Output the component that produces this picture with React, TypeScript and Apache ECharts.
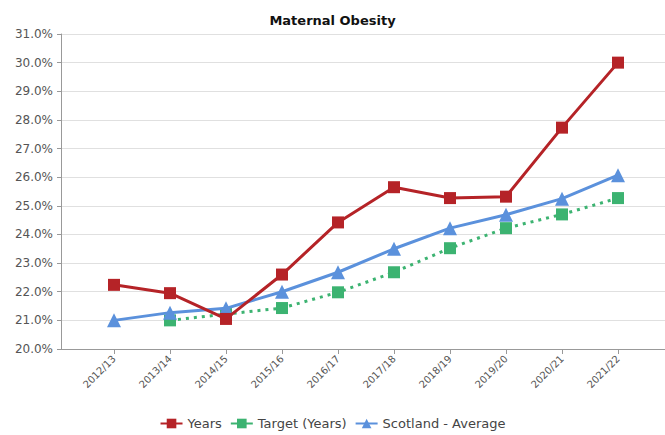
import React, { useEffect, useRef } from "react";
import * as echarts from "echarts";

const categories = ["2012/13", "2013/14", "2014/15", "2015/16", "2016/17", "2017/18", "2018/19", "2019/20", "2020/21", "2021/22"];
const yearsValues = [22.24, 21.95, 21.05, 22.6, 24.42, 25.65, 25.27, 25.32, 27.73, 30.0];
const targetValues: (number | string)[] = ["-", 21.0, 21.22, 21.43, 21.98, 22.68, 23.52, 24.22, 24.7, 25.27];
const scotlandValues = [21.0, 21.27, 21.42, 22.0, 22.68, 23.5, 24.22, 24.69, 25.25, 26.07];
const yTickMin = 20;
const yTickMax = 31;
const yTickStep = 1;

const FONT = "'DejaVu Sans', Verdana, sans-serif";

export default function App() {
  const ref = useRef<HTMLDivElement>(null);
  useEffect(() => {
    if (!ref.current) return;
    const chart = echarts.init(ref.current, null, { renderer: "svg" });
    chart.setOption({
      animation: false,
      backgroundColor: "#ffffff",
      title: {
        text: "Maternal Obesity",
        left: "center",
        top: 9,
        textStyle: { fontFamily: FONT, fontSize: 13, fontWeight: "bold", color: "#111" },
      },
      legend: {
        top: 412,
        left: "center",
        itemWidth: 22,
        itemHeight: 12,
        itemGap: 8,
        textStyle: { fontFamily: FONT, fontSize: 13, color: "#444" },
        data: [
          { name: "Years" },
          { name: "Target (Years)", lineStyle: { type: "solid" } },
          { name: "Scotland - Average" },
        ],
      },
      grid: [
        { left: 61, right: 0, top: 34, bottom: 86, containLabel: false },
        { left: 86, width: 560, top: 34, bottom: 86, containLabel: false },
      ],
      xAxis: [
        {
          type: "value",
          gridIndex: 0,
          min: 0,
          max: 1,
          axisLine: { show: true, lineStyle: { color: "#999", width: 1 } },
          axisTick: { show: false },
          axisLabel: { show: false },
          splitLine: { show: false },
        },
        {
          type: "category",
          gridIndex: 1,
          data: categories,
          boundaryGap: true,
          axisLine: { show: false },
          axisTick: { show: true, alignWithLabel: true, length: 5, lineStyle: { color: "#999" } },
          axisLabel: { rotate: 45, fontFamily: FONT, fontSize: 10, color: "#555", margin: 8, interval: 0 },
        },
      ],
      yAxis: [
        {
          type: "value",
          gridIndex: 0,
          min: yTickMin,
          max: yTickMax,
          interval: yTickStep,
          axisLine: { show: true, lineStyle: { color: "#999", width: 1 } },
          axisTick: { show: true, length: 4, lineStyle: { color: "#999" } },
          axisLabel: {
            fontFamily: FONT,
            fontSize: 12,
            color: "#555",
            margin: 8,
            formatter: (v: number) => v.toFixed(1) + "%",
          },
          splitLine: { show: true, lineStyle: { color: "#e0e0e0", width: 1 } },
        },
        {
          type: "value",
          gridIndex: 1,
          min: yTickMin,
          max: yTickMax,
          show: false,
          splitLine: { show: false },
        },
      ],
      series: [
        {
          name: "Target (Years)",
          type: "line",
          xAxisIndex: 1,
          yAxisIndex: 1,
          data: targetValues,
          symbol: "rect",
          symbolSize: 12,
          itemStyle: { color: "#3cb371" },
          lineStyle: { color: "#3cb371", width: 3, type: [3, 5] },
          z: 2,
        },
        {
          name: "Scotland - Average",
          type: "line",
          xAxisIndex: 1,
          yAxisIndex: 1,
          data: scotlandValues,
          symbol: "triangle",
          symbolSize: 14,
          itemStyle: { color: "#5b91dc" },
          lineStyle: { color: "#5b91dc", width: 3 },
          z: 3,
        },
        {
          name: "Years",
          type: "line",
          xAxisIndex: 1,
          yAxisIndex: 1,
          data: yearsValues,
          symbol: "rect",
          symbolSize: 12,
          itemStyle: { color: "#b52327" },
          lineStyle: { color: "#b52327", width: 3 },
          z: 4,
        },
      ],
    });
    return () => chart.dispose();
  }, []);
  return (
    <div
      ref={ref}
      style={{ position: "fixed", left: 0, top: 0, width: 665, height: 435 }}
    />
  );
}
